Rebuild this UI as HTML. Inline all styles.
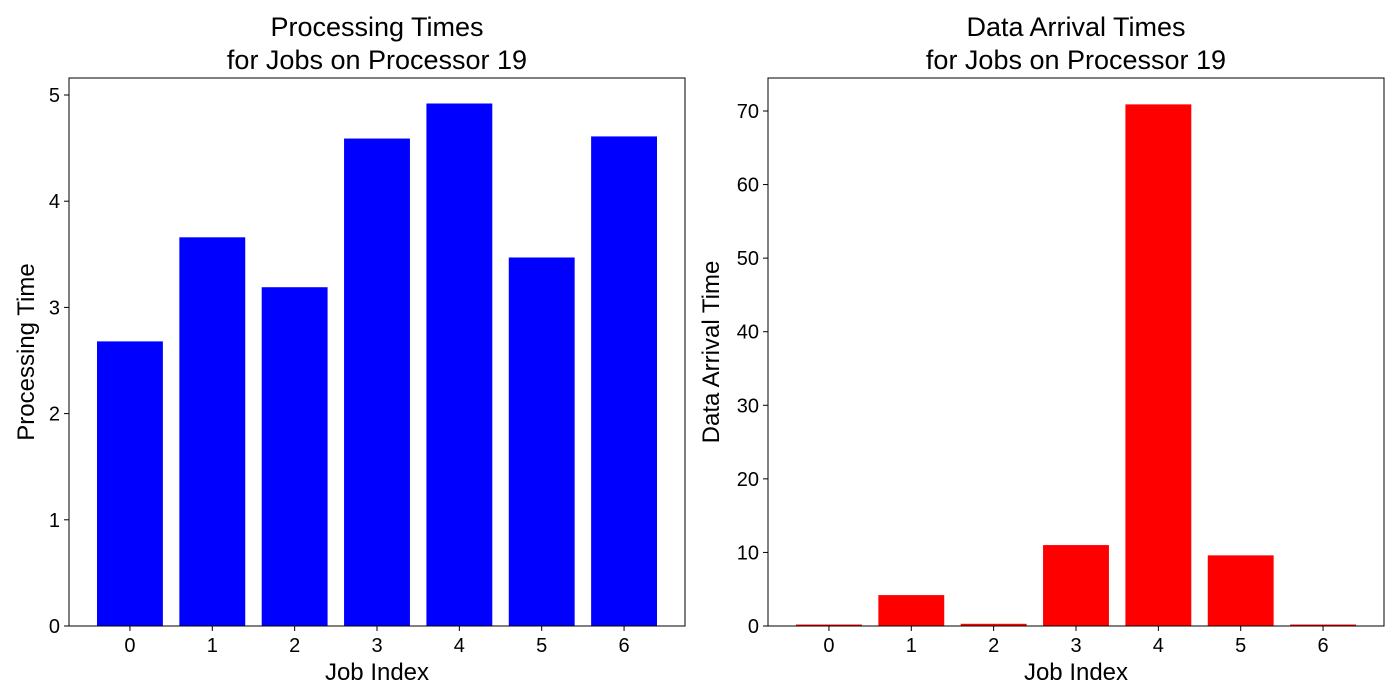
<!DOCTYPE html>
<html><head><meta charset="utf-8">
<style>
body{margin:0;background:#fff;}
svg{display:block;font-family:"Liberation Sans","DejaVu Sans",sans-serif;}
</style></head>
<body>
<svg id="chart" width="1400" height="700"></svg>
<script>
const categories = [0,1,2,3,4,5,6];
const processingTimes = [2.68, 3.66, 3.19, 4.59, 4.92, 3.47, 4.61];
const arrivalTimes = [0.2, 4.2, 0.3, 11.0, 70.9, 9.6, 0.2];
const leftTicks = [0,1,2,3,4,5];
const rightTicks = [0,10,20,30,40,50,60,70];

const NS = "http://www.w3.org/2000/svg";
const svg = document.getElementById('chart');
function mk(tag, attrs, parent){
  const e = document.createElementNS(NS, tag);
  for (const k in attrs) e.setAttribute(k, attrs[k]);
  (parent||svg).appendChild(e);
  return e;
}
function panel(opts){
  const g = mk('g', {});
  
  
  const L = opts.left, R = opts.left + 616, T = 78, B = 626;
  const xs = v => L + (v + 0.74) / 7.48 * (R - L);
  const ys = v => B - v / opts.ymax * (B - T);
  const bw = 0.8 / 7.48 * (R - L);
  opts.values.forEach((v, i) => {
    const r = mk('rect', {x: xs(categories[i]) - bw/2, y: ys(v), width: bw, height: B - ys(v), fill: opts.color}, g);
    
    
  });
  const frame = mk('rect', {x: L, y: T, width: R - L, height: B - T, fill: 'none', stroke: '#000', 'stroke-width': 1}, g);
  
  
  categories.forEach(c => {
    mk('line', {x1: xs(c), x2: xs(c), y1: B, y2: B + 5, stroke: '#000'}, g);
    const t = mk('text', {x: xs(c), y: B + 26, 'font-size': 20, 'text-anchor': 'middle'}, g);
    t.textContent = c;
    
    
  });
  opts.ticks.forEach(v => {
    mk('line', {x1: L - 5, x2: L, y1: ys(v), y2: ys(v), stroke: '#000'}, g);
    const t = mk('text', {x: L - 9, y: ys(v) + 7, 'font-size': 20, 'text-anchor': 'end'}, g);
    t.textContent = v;
    
    
  });
  const xt = mk('text', {x: (L + R)/2, y: 680, 'font-size': 24, 'text-anchor': 'middle'}, g);
  xt.textContent = 'Job Index';
  
  
  const yt = mk('text', {x: 0, y: 0, 'font-size': 24, 'text-anchor': 'middle', transform: `translate(${opts.ytx},${(T+B)/2}) rotate(-90)`}, g);
  yt.textContent = opts.ytitle;
  
  
  const t1 = mk('text', {x: (L + R)/2, y: 36, 'font-size': 27, 'text-anchor': 'middle'}, g);
  t1.textContent = opts.title;
  
  
  const t2 = mk('text', {x: (L + R)/2, y: 69, 'font-size': 27, 'text-anchor': 'middle'}, g);
  t2.textContent = 'for Jobs on Processor 19';
  
  
}
panel({name: 'processing-times-panel', left: 69, values: processingTimes, ymax: 5.0 * (626-78) / (626-95), ticks: leftTicks, color: '#0000ff', ytitle: 'Processing Time', ytx: 34, title: 'Processing Times'});
panel({name: 'data-arrival-panel', left: 768, values: arrivalTimes, ymax: 70 * (626-78) / (626-111), ticks: rightTicks, color: '#ff0000', ytitle: 'Data Arrival Time', ytx: 719, title: 'Data Arrival Times'});
</script>
</body></html>
